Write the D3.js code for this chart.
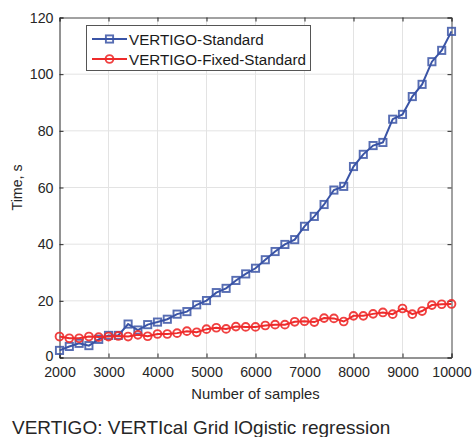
<!DOCTYPE html>
<html>
<head>
<meta charset="utf-8">
<script src="https://cdn.jsdelivr.net/npm/d3@7/dist/d3.min.js"></script>
<style>
  html, body { margin: 0; padding: 0; background: #fff; }
  svg { display: block; font-family: "Liberation Sans", Arial, Helvetica, sans-serif; }
</style>
</head>
<body>
<svg id="chart" width="475" height="437"></svg>
<script>
// Sample sizes (every 200 samples from 2000 to 10000)
const samples = d3.range(2000, 10001, 200);

// Run time in seconds, VERTIGO-Standard
const standardTime = [
  2.5, 3.9, 5.0, 4.2, 6.4, 7.8, 7.8, 11.8, 9.7, 11.6,
  12.5, 13.5, 15.3, 16.2, 18.6, 20.1, 22.9, 24.4, 27.2, 29.5,
  31.5, 34.5, 37.4, 39.9, 41.6, 46.3, 49.8, 54.0, 59.1, 60.4,
  67.4, 71.7, 74.8, 75.9, 84.1, 85.8, 92.1, 96.4, 104.4, 108.4,
  115.1
];

// Run time in seconds, VERTIGO-Fixed-Standard
const fixedTime = [
  7.4, 6.8, 6.8, 7.4, 7.2, 7.4, 7.6, 7.4, 8.0, 7.5,
  8.3, 8.3, 8.6, 9.3, 8.9, 10.0, 10.5, 10.1, 10.9, 10.8,
  10.8, 11.3, 11.6, 11.6, 12.6, 12.8, 12.5, 13.9, 13.8, 12.7,
  14.7, 14.7, 15.4, 15.9, 15.3, 17.3, 15.3, 16.4, 18.5, 18.8,
  18.9
];

const xTicks = [2000, 3000, 4000, 5000, 6000, 7000, 8000, 9000, 10000];
const yTicks = [0, 20, 40, 60, 80, 100, 120];

const seriesNames = ["VERTIGO-Standard", "VERTIGO-Fixed-Standard"];
const seriesColors = ["#3a54a6", "#ee2b2b"];
const seriesMarkers = ["square", "circle"];

const titleText = "VERTIGO: VERTIcal Grid lOgistic regression";
const xLabel = "Number of samples";
const yLabel = "Time, s";

const svg = d3.select("#chart");
const plot = { left: 59.5, right: 451.5, top: 17.5, bottom: 357.5 };

const x = d3.scaleLinear().domain([2000, 10000]).range([plot.left, plot.right]);
const y = d3.scaleLinear().domain([0, 120]).range([plot.bottom, plot.top]);

// Grid lines
const grid = svg.append("g").attr("stroke", "#e3e3e3").attr("stroke-width", 1);
grid.selectAll(".gx").data(xTicks.slice(1, -1)).join("line")
  .attr("x1", d => x(d)).attr("x2", d => x(d))
  .attr("y1", plot.top).attr("y2", plot.bottom);
grid.selectAll(".gy").data(yTicks.slice(1, -1)).join("line")
  .attr("x1", plot.left).attr("x2", plot.right)
  .attr("y1", d => y(d)).attr("y2", d => y(d));

// Axes (ticks pointing inward, box on all sides)
const axisColor = "#262626";
const tickFont = 14.2;

const xAxis = svg.append("g").attr("transform", `translate(0,${plot.bottom})`)
  .call(d3.axisBottom(x).tickValues(xTicks).tickSize(-4).tickPadding(9).tickFormat(d3.format("d")));
const yAxis = svg.append("g").attr("transform", `translate(${plot.left},0)`)
  .call(d3.axisLeft(y).tickValues(yTicks).tickSize(-4).tickPadding(6).tickFormat(d3.format("d")));
const xTop = svg.append("g").attr("transform", `translate(0,${plot.top})`)
  .call(d3.axisTop(x).tickValues(xTicks).tickSize(-4).tickFormat(""));
const yRight = svg.append("g").attr("transform", `translate(${plot.right},0)`)
  .call(d3.axisRight(y).tickValues(yTicks).tickSize(-4).tickFormat(""));

[xAxis, yAxis, xTop, yRight].forEach(g => {
  g.select(".domain").attr("stroke", axisColor).attr("stroke-width", 1);
  g.selectAll(".tick line").attr("stroke", axisColor);
  g.selectAll(".tick text").attr("fill", "#262626")
    .style("font-size", tickFont + "px")
    .style("font-family", '"Liberation Sans", Arial, sans-serif');
});
xTop.select(".domain").attr("stroke", "#444");
yRight.select(".domain").attr("stroke", "#444");

// Lift the "0" label a little so it clears the first x tick label
yAxis.selectAll(".tick text").filter(d => d === 0).attr("y", -2);

// Axis labels
svg.append("text")
  .attr("x", (plot.left + plot.right) / 2).attr("y", 399)
  .attr("text-anchor", "middle").attr("fill", "#262626")
  .style("font-size", "14.8px").text(xLabel);
svg.append("text")
  .attr("transform", `translate(22,${(plot.top + plot.bottom) / 2}) rotate(-90)`)
  .attr("text-anchor", "middle").attr("fill", "#262626")
  .style("font-size", "14.2px").text(yLabel);

// Series
const allSeries = [standardTime, fixedTime];
const line = d3.line().x((d, i) => x(samples[i])).y(d => y(d));

function drawMarker(g, type, color, cx, cy) {
  if (type === "square") {
    g.append("rect").attr("x", cx - 3.6).attr("y", cy - 3.6)
      .attr("width", 7.2).attr("height", 7.2)
      .attr("fill", "none").attr("stroke", color).attr("stroke-width", 1.9)
      .attr("stroke-opacity", 0.85);
  } else {
    g.append("circle").attr("cx", cx).attr("cy", cy).attr("r", 3.9)
      .attr("fill", "none").attr("stroke", color).attr("stroke-width", 1.9)
      .attr("stroke-opacity", 0.9);
  }
}

allSeries.forEach((vals, s) => {
  const g = svg.append("g");
  g.append("path").datum(vals).attr("d", line)
    .attr("fill", "none").attr("stroke", seriesColors[s]).attr("stroke-width", 2);
  vals.forEach((v, i) => drawMarker(g, seriesMarkers[s], seriesColors[s], x(samples[i]), y(v)));
});

// Legend
const legend = svg.append("g");
legend.append("rect").attr("x", 86.5).attr("y", 25.5).attr("width", 224).attr("height", 45)
  .attr("fill", "#fff").attr("stroke", "#555").attr("stroke-width", 1);
seriesNames.forEach((name, s) => {
  const ly = 39 + s * 20;
  legend.append("line").attr("x1", 92).attr("x2", 127).attr("y1", ly).attr("y2", ly)
    .attr("stroke", seriesColors[s]).attr("stroke-width", 2);
  drawMarker(legend, seriesMarkers[s], seriesColors[s], 109.5, ly);
  legend.append("text").attr("x", 129).attr("y", ly + 5.5)
    .attr("fill", "#1a1a1a").style("font-size", "15.2px").text(name);
});

// Caption
svg.append("text").attr("x", 12).attr("y", 434)
  .attr("fill", "#262626").style("font-size", "19px").text(titleText);
</script>
</body>
</html>
